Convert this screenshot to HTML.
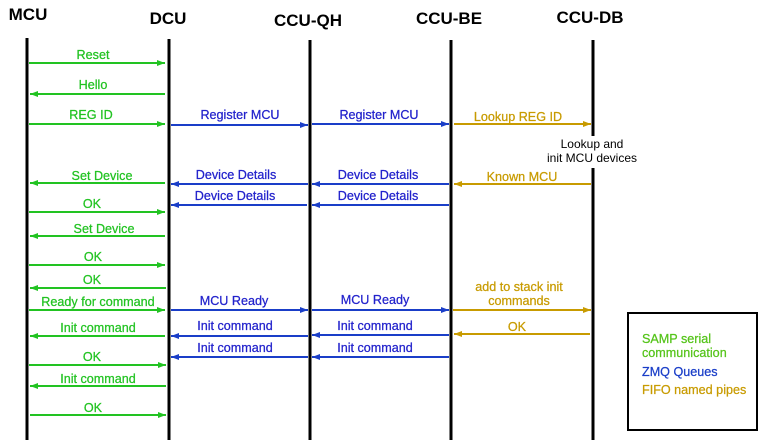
<!DOCTYPE html>
<html><head><meta charset="utf-8"><style>
html,body{margin:0;padding:0;background:#fff;}
svg{display:block;}
text{font-family:"Liberation Sans",sans-serif;}
</style></head><body>
<svg width="761" height="444" viewBox="0 0 761 444" xmlns="http://www.w3.org/2000/svg">
<defs>
<marker id="g" markerWidth="8" markerHeight="6" refX="8" refY="3" orient="auto" markerUnits="userSpaceOnUse"><path d="M0,0 L8,3 L0,6 z" fill="#22c322"/></marker>
<marker id="b" markerWidth="8" markerHeight="6" refX="8" refY="3" orient="auto" markerUnits="userSpaceOnUse"><path d="M0,0 L8,3 L0,6 z" fill="#1a3ec8"/></marker>
<marker id="y" markerWidth="8" markerHeight="6" refX="8" refY="3" orient="auto" markerUnits="userSpaceOnUse"><path d="M0,0 L8,3 L0,6 z" fill="#c89b00"/></marker>
</defs>
<g font-weight="bold" font-size="17" fill="#000" text-anchor="middle">
<text x="28" y="20">MCU</text>
<text x="168" y="24">DCU</text>
<text x="308" y="26">CCU-QH</text>
<text x="449" y="24">CCU-BE</text>
<text x="590" y="23">CCU-DB</text>
</g>
<g stroke="#000" stroke-width="3">
<line x1="27" y1="38" x2="27" y2="440"/>
<line x1="169" y1="39" x2="169" y2="440"/>
<line x1="310" y1="40" x2="310" y2="440"/>
<line x1="451" y1="40" x2="451" y2="440"/>
<line x1="593" y1="40" x2="593" y2="136"/>
<line x1="593" y1="168" x2="593" y2="440"/>
</g>
<g stroke="#22c322" stroke-width="2" marker-end="url(#g)">
<line x1="29" y1="63" x2="165" y2="63"/>
<line x1="165" y1="94" x2="30" y2="94"/>
<line x1="29" y1="124" x2="165" y2="124"/>
<line x1="165" y1="183" x2="30" y2="183"/>
<line x1="29" y1="212" x2="165" y2="212"/>
<line x1="165" y1="236" x2="30" y2="236"/>
<line x1="29" y1="265" x2="165" y2="265"/>
<line x1="166" y1="288" x2="30" y2="288"/>
<line x1="29" y1="310" x2="165" y2="310"/>
<line x1="165" y1="336" x2="30" y2="336"/>
<line x1="29" y1="365" x2="166" y2="365"/>
<line x1="166" y1="386" x2="30" y2="386"/>
<line x1="30" y1="415" x2="166" y2="415"/>
</g>
<g stroke="#1a3ec8" stroke-width="2" marker-end="url(#b)">
<line x1="171" y1="125" x2="308" y2="125"/>
<line x1="312" y1="124" x2="449" y2="124"/>
<line x1="308" y1="184" x2="171" y2="184"/>
<line x1="449" y1="184" x2="312" y2="184"/>
<line x1="307" y1="205" x2="171" y2="205"/>
<line x1="449" y1="205" x2="312" y2="205"/>
<line x1="171" y1="310" x2="308" y2="310"/>
<line x1="312" y1="310" x2="449" y2="310"/>
<line x1="308" y1="336" x2="171" y2="336"/>
<line x1="449" y1="335" x2="312" y2="335"/>
<line x1="308" y1="357" x2="171" y2="357"/>
<line x1="449" y1="357" x2="312" y2="357"/>
</g>
<g stroke="#c89b00" stroke-width="2" marker-end="url(#y)">
<line x1="454" y1="124" x2="591" y2="124"/>
<line x1="591" y1="184" x2="454" y2="184"/>
<line x1="453" y1="310" x2="591" y2="310"/>
<line x1="590" y1="334" x2="454" y2="334"/>
</g>
<g font-size="12.6" fill="#22c322" text-anchor="middle" stroke="#22c322" stroke-width="0.25">
<text x="93" y="59">Reset</text>
<text x="93" y="89">Hello</text>
<text x="91" y="119">REG ID</text>
<text x="102" y="180">Set Device</text>
<text x="92" y="208">OK</text>
<text x="104" y="233">Set Device</text>
<text x="93" y="261">OK</text>
<text x="92" y="284">OK</text>
<text x="98" y="306">Ready for command</text>
<text x="98" y="332">Init command</text>
<text x="92" y="361">OK</text>
<text x="98" y="383">Init command</text>
<text x="93" y="412">OK</text>
</g>
<g font-size="12.6" fill="#2222cc" text-anchor="middle" stroke="#2222cc" stroke-width="0.25">
<text x="240" y="119">Register MCU</text>
<text x="379" y="119">Register MCU</text>
<text x="236" y="179">Device Details</text>
<text x="378" y="179">Device Details</text>
<text x="235" y="200">Device Details</text>
<text x="378" y="200">Device Details</text>
<text x="234" y="305">MCU Ready</text>
<text x="375" y="304">MCU Ready</text>
<text x="235" y="330">Init command</text>
<text x="375" y="330">Init command</text>
<text x="235" y="352">Init command</text>
<text x="375" y="352">Init command</text>
</g>
<g font-size="12.6" fill="#c89b00" text-anchor="middle" stroke="#c89b00" stroke-width="0.25">
<text x="518" y="121">Lookup REG ID</text>
<text x="522" y="181">Known MCU</text>
<text x="519" y="291">add to stack init</text>
<text x="519" y="305">commands</text>
<text x="517" y="331">OK</text>
</g>
<g font-size="12" fill="#000" text-anchor="middle">
<text x="592" y="148">Lookup and</text>
<text x="592" y="162">init MCU devices</text>
</g>
<rect x="628" y="313" width="129" height="117" fill="#fff" stroke="#000" stroke-width="2"/>
<g font-size="12.6" stroke-width="0.25">
<text x="642" y="343" fill="#55c41a" stroke="#55c41a">SAMP serial</text>
<text x="642" y="357" fill="#55c41a" stroke="#55c41a">communication</text>
<text x="642" y="376" fill="#1a3ec8" stroke="#1a3ec8">ZMQ Queues</text>
<text x="642" y="394" fill="#c89b00" stroke="#c89b00">FIFO named pipes</text>
</g>
</svg>
</body></html>
